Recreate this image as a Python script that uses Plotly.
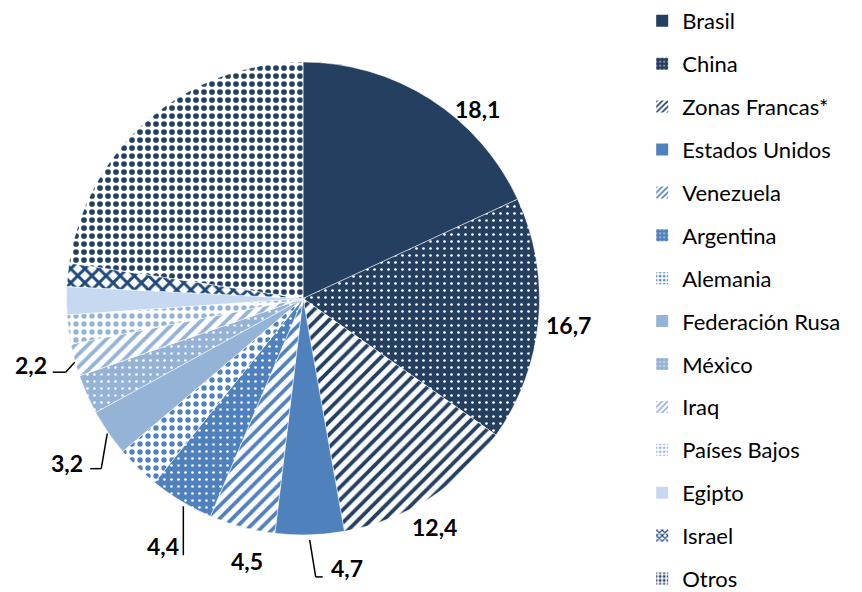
import math
import plotly.graph_objects as go

# ---- data ----
countries = ["Brasil", "China", "Zonas Francas*", "Estados Unidos", "Venezuela",
             "Argentina", "Alemania", "Federación Rusa", "México", "Iraq",
             "Países Bajos", "Egipto", "Israel", "Otros"]
shares = [18.1, 16.7, 12.4, 4.7, 4.5, 4.4, 3.0, 3.2, 2.7, 2.2, 2.0, 1.9, 1.6, 22.6]
shown_labels = ["18,1", "16,7", "12,4", "4,7", "4,5", "4,4", "", "3,2", "", "2,2", "", "", "", ""]

# ---- styles ----
NAVY = "#243F60"
BLUE = "#4F81BD"
LBLUE = "#95B3D7"
PALE = "#C6D9F1"
ISR = "#1F497D"
styles = [
    dict(shape="", bg=NAVY, fg=NAVY, size=8, sol=0.3),
    dict(shape=".", bg=NAVY, fg="white", size=7, sol=0.12),
    dict(shape="/", bg="white", fg=NAVY, size=9, sol=0.42),
    dict(shape="", bg=BLUE, fg=BLUE, size=8, sol=0.3),
    dict(shape="/", bg="white", fg=BLUE, size=9, sol=0.42),
    dict(shape=".", bg=BLUE, fg="white", size=7, sol=0.12),
    dict(shape=".", bg="white", fg=BLUE, size=8, sol=0.35),
    dict(shape="", bg=LBLUE, fg=LBLUE, size=8, sol=0.3),
    dict(shape=".", bg=LBLUE, fg="white", size=7, sol=0.12),
    dict(shape="/", bg="white", fg=LBLUE, size=9, sol=0.42),
    dict(shape=".", bg="white", fg=LBLUE, size=8, sol=0.35),
    dict(shape="", bg=PALE, fg=PALE, size=8, sol=0.3),
    dict(shape="x", bg="white", fg=ISR, size=10, sol=0.5),
    dict(shape=".", bg="white", fg=NAVY, size=8, sol=0.4),
]

W, H = 862, 592
CX, CY, R = 303, 298.5, 236.5
FONT = "Lato"

fig = go.Figure()
fig.add_trace(go.Pie(
    labels=countries, values=shares, sort=False, direction="clockwise", rotation=0,
    textinfo="none", hoverinfo="label+value", showlegend=False,
    domain=dict(x=[(CX - R) / W, (CX + R) / W], y=[1 - (CY + R) / H, 1 - (CY - R) / H]),
    marker=dict(
        colors=[s["bg"] if s["shape"] == "" else s["fg"] for s in styles],
        line=dict(color="white", width=0.5),
        pattern=dict(
            shape=[s["shape"] for s in styles],
            bgcolor=[s["bg"] for s in styles],
            fgcolor=[s["fg"] for s in styles],
            size=[s["size"] for s in styles],
            solidity=[s["sol"] for s in styles],
            fillmode="replace",
            fgopacity=1,
        ),
    ),
))

# legend via empty bar traces (so the pattern swatches appear and spacing can be set)
for name, s in zip(countries, styles):
    fig.add_trace(go.Bar(
        x=[None], y=[None], name=name, legendgroup=name, showlegend=True,
        marker=dict(color=s["bg"] if s["shape"] == "" else s["fg"],
                    line=dict(width=0),
                    pattern=dict(shape=s["shape"], bgcolor=s["bg"], fgcolor=s["fg"],
                                 size=5, solidity=s["sol"], fillmode="replace")),
    ))

# ---- labels (placement offsets relative to slice edge at mid-angle, in px) ----
label_style = {
    "18,1": dict(off=(47, 10)),
    "16,7": dict(off=(30, 5)),
    "12,4": dict(off=(5, 29)),
    "4,5": dict(off=(5, 34)),
    "4,7": dict(off=(37, 33), lead=[(0, 5), (6, 42), (13, 42)]),
    "4,4": dict(off=(-18, 45), lead=[(2, 5), (2, 54)]),
    "3,2": dict(off=(-41, 30), lead=[(-1, 1), (-7, 36), (-18, 36)]),
    "2,2": dict(off=(-44, 5), lead=[(0, 2), (-9, 12), (-22, 12)]),
}

def px2paper(x, y):
    return x / W, 1 - y / H

total = sum(shares)
cum = 0.0
for v, lab in zip(shares, shown_labels):
    mid = (cum + v / 2) / total * 2 * math.pi
    cum += v
    if not lab:
        continue
    ax = CX + R * math.sin(mid)
    ay = CY - R * math.cos(mid)
    st = label_style[lab]
    lx, ly = px2paper(ax + st["off"][0], ay + st["off"][1])
    fig.add_annotation(x=lx, y=ly, xref="paper", yref="paper", text="<b>%s</b>" % lab,
                       showarrow=False, xanchor="center", yanchor="middle",
                       font=dict(family=FONT, size=23, color="black"))
    pts = st.get("lead")
    if pts:
        for (x0, y0), (x1, y1) in zip(pts[:-1], pts[1:]):
            p0 = px2paper(ax + x0, ay + y0)
            p1 = px2paper(ax + x1, ay + y1)
            fig.add_shape(type="line", xref="paper", yref="paper",
                          x0=p0[0], y0=p0[1], x1=p1[0], y1=p1[1],
                          line=dict(color="black", width=1.5))

fig.update_layout(
    width=W, height=H, margin=dict(l=0, r=0, t=0, b=0),
    paper_bgcolor="white", plot_bgcolor="white",
    xaxis=dict(visible=False, domain=[0.99, 1.0]), yaxis=dict(visible=False, domain=[0.99, 1.0]),
    legend=dict(x=0.745, y=0.982, xanchor="left", yanchor="top",
                font=dict(family=FONT, size=22, color="black"),
                traceorder="grouped", tracegroupgap=11.3, itemclick=False,
                maxheight=800,
                bgcolor="rgba(0,0,0,0)"),
    font=dict(family=FONT),
)

fig.write_html("out.html")
